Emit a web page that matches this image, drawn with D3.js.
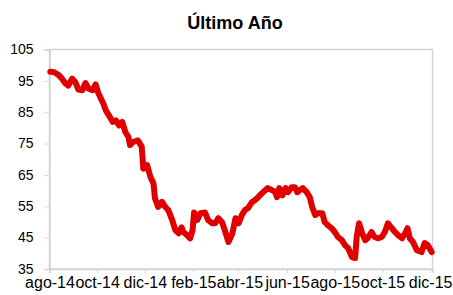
<!DOCTYPE html>
<html><head><meta charset="utf-8">
<script src="https://cdn.jsdelivr.net/npm/d3@7"></script>
<style>
html,body{margin:0;padding:0;background:#fff;}
svg{display:block;font-family:"Liberation Sans",Arial,sans-serif;}
</style></head>
<body><svg id="c" width="453" height="295"></svg>
<script>
const title = "Último Año";
const dates = ["2014-08-02","2014-08-06","2014-08-08","2014-08-12","2014-08-17","2014-08-21","2014-08-25","2014-08-30",
"2014-09-03","2014-09-07","2014-09-12","2014-09-16","2014-09-20","2014-09-25","2014-09-29",
"2014-10-02","2014-10-05","2014-10-09","2014-10-12","2014-10-16","2014-10-21","2014-10-25","2014-10-29",
"2014-11-02","2014-11-06","2014-11-10","2014-11-12","2014-11-16","2014-11-22","2014-11-27","2014-11-29",
"2014-12-04","2014-12-08","2014-12-12","2014-12-14","2014-12-18","2014-12-23","2014-12-27","2014-12-31",
"2015-01-05","2015-01-09","2015-01-13","2015-01-17","2015-01-19","2015-01-24","2015-01-28","2015-01-31",
"2015-02-02","2015-02-06","2015-02-10","2015-02-16","2015-02-20","2015-02-25","2015-03-01","2015-03-05",
"2015-03-10","2015-03-14","2015-03-18","2015-03-23","2015-03-27","2015-03-31",
"2015-04-04","2015-04-08","2015-04-12","2015-04-17","2015-04-21","2015-04-25","2015-04-30",
"2015-05-04","2015-05-07","2015-05-13","2015-05-17","2015-05-19","2015-05-22","2015-05-26","2015-05-30",
"2015-06-02","2015-06-07","2015-06-11","2015-06-14","2015-06-17","2015-06-21","2015-06-26","2015-06-30",
"2015-07-03","2015-07-07","2015-07-10","2015-07-16","2015-07-19","2015-07-23","2015-07-28",
"2015-08-01","2015-08-05","2015-08-10","2015-08-14","2015-08-18","2015-08-23","2015-08-27","2015-08-29",
"2015-09-01","2015-09-05","2015-09-09","2015-09-12","2015-09-17","2015-09-21","2015-09-25","2015-09-30",
"2015-10-04","2015-10-08","2015-10-13","2015-10-17","2015-10-21","2015-10-26","2015-10-30",
"2015-11-02","2015-11-05","2015-11-09","2015-11-14","2015-11-20","2015-11-24","2015-11-28","2015-12-03"];
const values = [97.9,97.8,97.6,97.0,95.7,94.3,93.5,95.7,
94.6,92.2,92.0,94.3,92.5,92.0,93.9,
91.4,89.8,87.7,85.6,84.0,81.9,82.4,80.8,
81.9,78.7,77.1,74.5,75.5,76.0,74.0,67.0,
68.1,64.4,62.3,57.5,54.8,56.4,54.8,53.8,
50.6,47.4,46.4,48.3,46.9,45.8,44.8,47.4,
53.0,50.6,52.8,53.0,50.6,49.6,49.6,51.2,
49.8,46.8,43.6,46.4,51.2,49.6,
52.2,53.8,54.4,56.3,57.0,57.9,59.2,
60.1,60.8,60.1,59.5,57.9,60.8,58.5,60.8,
59.5,61.1,61.1,59.5,60.1,60.8,59.5,57.9,
54.8,52.2,52.8,52.8,50.0,49.0,48.0,
46.8,45.2,44.2,42.6,41.7,38.8,38.5,45.2,
49.6,46.4,44.2,44.8,46.8,45.2,44.8,45.2,
46.8,49.6,48.0,46.8,45.8,44.8,46.4,
48.0,44.8,43.6,41.0,40.4,43.3,42.6,40.4];
const tickDates = ["2014-08-01","2014-10-01","2014-12-01","2015-02-01","2015-04-01","2015-06-01","2015-08-01","2015-10-01","2015-12-01"];
const tickLabels = ["ago-14","oct-14","dic-14","feb-15","abr-15","jun-15","ago-15","oct-15","dic-15"];
const yTicks = [35,45,55,65,75,85,95,105];

const parse = d3.timeParse("%Y-%m-%d");
const data = dates.map((d,i)=>({date:parse(d), value:values[i]}));
const svg = d3.select("#c");
const L=49.5, R=432.5, T=49.5, B=269;
const x = d3.scaleTime().domain([parse("2014-08-01"), parse("2015-12-04")]).range([L, R]);
const y = d3.scaleLinear().domain([35,105]).range([B, T]);
const grey = "#d4d4d4";

// plot area border
svg.append("rect").attr("x",L).attr("y",T).attr("width",R-L).attr("height",B-T)
  .attr("fill","none").attr("stroke",grey).attr("stroke-width",1.5);

// title
svg.append("text").attr("x",235).attr("y",29).attr("text-anchor","middle")
  .attr("font-size",18).attr("font-weight","bold").attr("fill","#000").text(title);

// y axis
const ya = svg.append("g").attr("transform",`translate(${L},0)`)
  .call(d3.axisLeft(y).tickValues(yTicks).tickSize(5).tickPadding(11).tickFormat(d3.format("d")));
ya.select(".domain").attr("stroke",grey).attr("stroke-width",1.5);
ya.selectAll(".tick line").attr("stroke",grey);
ya.selectAll("text").attr("font-size",14).attr("fill","#000").attr("font-family","Liberation Sans, Arial, sans-serif")
  .attr("dy","0.3em");

// x axis
const tdates = tickDates.map(parse);
const xa = svg.append("g").attr("transform",`translate(0,${B})`)
  .call(d3.axisBottom(x).tickValues(tdates).tickSize(4).tickPadding(4)
    .tickFormat((d,i)=>tickLabels[i]));
xa.select(".domain").attr("stroke",grey).attr("stroke-width",1.5);
xa.selectAll(".tick line").attr("stroke",grey);
xa.selectAll("text").attr("font-size",16).attr("fill","#000").attr("font-family","Liberation Sans, Arial, sans-serif")
  .attr("dy","0.68em");

// line
const line = d3.line().x(d=>x(d.date)).y(d=>y(d.value));
svg.append("path").datum(data).attr("d",line).attr("fill","none")
  .attr("stroke","#e00000").attr("stroke-width",6)
  .attr("stroke-linejoin","round").attr("stroke-linecap","round");
</script></body></html>
